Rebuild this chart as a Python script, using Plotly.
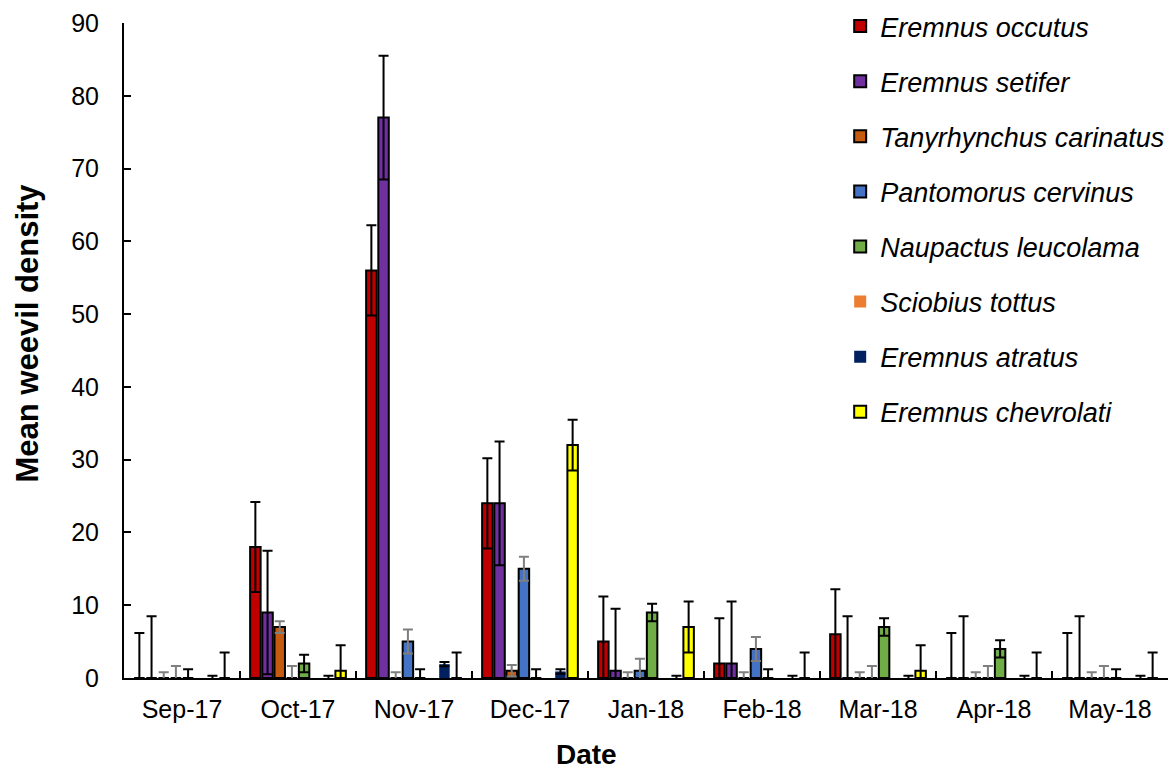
import plotly.graph_objects as go

months = ["Sep-17", "Oct-17", "Nov-17", "Dec-17", "Jan-18", "Feb-18", "Mar-18", "Apr-18", "May-18"]

species = ["Eremnus occutus", "Eremnus setifer", "Tanyrhynchus carinatus", "Pantomorus cervinus",
           "Naupactus leucolama", "Sciobius tottus", "Eremnus atratus", "Eremnus chevrolati"]

eremnus_occutus = [0, 18, 56, 24, 5, 2, 6, 0, 0]
eremnus_setifer = [0, 9, 77, 24, 1, 2, 0, 0, 0]
tanyrhynchus_carinatus = [0, 7, 0, 1, 0, 0, 0, 0, 0]
pantomorus_cervinus = [0, 0, 5, 15, 1, 4, 0, 0, 0]
naupactus_leucolama = [0, 2, 0, 0, 9, 0, 7, 4, 0]
sciobius_tottus = [0, 0, 0, 0, 0, 0, 0, 0, 0]
eremnus_atratus = [0, 0, 1.9, 0.9, 0, 0, 0, 0, 0]
eremnus_chevrolati = [0, 1, 0, 32, 7, 0, 1, 0, 0]

# standard error per species (same for every month); None = no error bars
std_error = [6.2, 8.5, 0.8, 1.65, 1.2, None, 0.3, 3.5]

series = [eremnus_occutus, eremnus_setifer, tanyrhynchus_carinatus, pantomorus_cervinus,
          naupactus_leucolama, sciobius_tottus, eremnus_atratus, eremnus_chevrolati]

colors = ["#C00000", "#7030A0", "#C55A11", "#4472C4", "#70AD47", "#ED7D31", "#002060", "#FFFF00"]
error_colors = ["#000000", "#000000", "#7F7F7F", "#7F7F7F", "#000000", "#000000", "#000000", "#000000"]
outlined = [True, True, True, True, True, False, False, True]

FONT = "Arial, Liberation Sans, sans-serif"

fig = go.Figure()
for i, name in enumerate(species):
    err = std_error[i]
    fig.add_trace(go.Bar(
        name=name,
        x=months,
        y=series[i],
        legendgroup=name,
        marker=dict(color=colors[i],
                    line=dict(color="#000000", width=2 if outlined[i] else 0)),
        error_y=dict(type="constant", value=err if err is not None else 0,
                     visible=err is not None, color=error_colors[i],
                     thickness=2, width=5),
    ))

fig.update_layout(
    width=1172, height=771,
    margin=dict(l=124, r=4, t=23, b=93, pad=0, autoexpand=False),
    paper_bgcolor="white", plot_bgcolor="white",
    barmode="group", bargap=0.16, bargroupgap=0.14,
    font=dict(family=FONT, color="#000000", size=25),
    showlegend=True,
    legend=dict(
        x=0.686, y=1.032, xanchor="left", yanchor="top",
        traceorder="grouped", tracegroupgap=17, maxheight=760,
        font=dict(family=FONT, size=27, style="italic", color="#000000"),
        bgcolor="rgba(0,0,0,0)",
    ),
    xaxis=dict(
        type="category",
        showline=True, linecolor="#000000", linewidth=2,
        ticks="inside", tickson="boundaries", ticklen=7, tickwidth=2, tickcolor="#000000",
        showgrid=False, zeroline=False,
        tickfont=dict(family=FONT, size=25),
        ticklabelstandoff=8,
    ),
    yaxis=dict(
        range=[0, 90], dtick=10,
        showline=True, linecolor="#000000", linewidth=2,
        ticks="inside", ticklen=7, tickwidth=2, tickcolor="#000000",
        showgrid=False, zeroline=False,
        tickfont=dict(family=FONT, size=25),
        ticklabelstandoff=18,
    ),
    annotations=[
        dict(text="<b>Date</b>", xref="paper", yref="paper", x=(586 - 124) / 1044,
             y=(678 - 754) / 655, xanchor="center", yanchor="middle", showarrow=False,
             borderpad=0, font=dict(family=FONT, size=28, color="#000000")),
        dict(text="<b>Mean weevil density</b>", xref="paper", yref="paper", x=(27 - 124) / 1044,
             y=(678 - 333.5) / 655, xanchor="center", yanchor="middle", showarrow=False,
             textangle=-90, borderpad=0, font=dict(family=FONT, size=31, color="#000000")),
    ],
)

fig.write_html("out.html")
